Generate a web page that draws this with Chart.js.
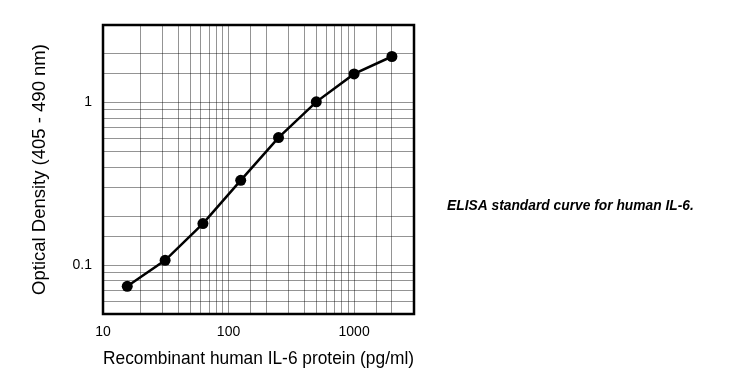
<!DOCTYPE html>
<html lang="en">
<head>
    <meta charset="UTF-8">
    <title>ELISA standard curve for human IL-6</title>
    <style>
        body {
            margin: 0;
            padding: 0;
            background-color: #fff;
        }

        .chart-container {
            width: 745px;
            height: 392px;
        }
    </style>
    <script src="https://cdn.jsdelivr.net/npm/chart.js"></script>
</head>
<body>
    <div class="chart-container">
        <canvas id="elisaChart" width="745" height="392"></canvas>
    </div>

    <script>
        // standard concentrations (pg/ml) and optical density
        const concentrations = [15.6, 31.25, 62.5, 125, 250, 500, 1000, 2000];
        const opticalDensity = [0.074, 0.107, 0.180, 0.332, 0.609, 1.01, 1.50, 1.92];

        const xTickLabels = [10, 100, 1000];
        const yTickLabels = [0.1, 1];

        const xTitle = 'Recombinant human IL-6 protein (pg/ml)';
        const yTitle = 'Optical Density (405 - 490 nm)';
        const caption = 'ELISA standard curve for human IL-6.';

        const FONT = '"Liberation Sans", Arial, sans-serif';
        const GRID_COLOR = 'rgba(0, 0, 0, 0.42)';

        function showLabel(value, list) {
            return list.some(v => Math.abs(v - value) / v < 1e-6);
        }

        // black frame around the plot area
        const frame = {
            id: 'frame',
            afterDatasetsDraw(chart) {
                const { ctx, chartArea } = chart;
                ctx.save();
                ctx.strokeStyle = '#000';
                ctx.lineWidth = 2.5;
                ctx.strokeRect(chartArea.left, chartArea.top,
                    chartArea.right - chartArea.left, chartArea.bottom - chartArea.top);
                ctx.restore();
            }
        };

        // caption to the right of the chart
        const captionText = {
            id: 'captionText',
            afterDraw(chart) {
                const ctx = chart.ctx;
                ctx.save();
                ctx.fillStyle = '#000';
                ctx.font = 'italic bold 13.8px ' + FONT;
                ctx.textBaseline = 'middle';
                ctx.fillText(caption, 447, 206);
                ctx.restore();
            }
        };

        const points = concentrations.map((c, i) => ({ x: c, y: opticalDensity[i] }));

        const ctx = document.getElementById('elisaChart').getContext('2d');
        const elisaChart = new Chart(ctx, {
            type: 'line',
            data: {
                datasets: [{
                    data: points,
                    borderColor: '#000',
                    backgroundColor: '#000',
                    borderWidth: 2.5,
                    pointRadius: 5.5,
                    pointBorderWidth: 0,
                    tension: 0,
                    fill: false
                }]
            },
            options: {
                responsive: false,
                animation: false,
                layout: {
                    padding: { left: 0, top: 25, right: 331, bottom: 0 }
                },
                plugins: {
                    legend: { display: false },
                    tooltip: { enabled: false }
                },
                scales: {
                    x: {
                        type: 'logarithmic',
                        min: 10,
                        max: 3000,
                        grid: { color: GRID_COLOR, lineWidth: 1, drawTicks: false },
                        border: { display: false },
                        ticks: {
                            autoSkip: false,
                            maxRotation: 0,
                            padding: 10,
                            color: '#000',
                            font: { family: FONT, size: 14 },
                            callback: (value) => showLabel(value, xTickLabels) ? String(value) : ''
                        },
                        title: {
                            display: true,
                            text: xTitle,
                            color: '#000',
                            font: { family: FONT, size: 18.5 },
                            padding: { top: 0, bottom: 22 }
                        },
                        afterFit: (scale) => { scale.height = 78; }
                    },
                    y: {
                        type: 'logarithmic',
                        min: 0.05,
                        max: 3,
                        grid: { color: GRID_COLOR, lineWidth: 1, drawTicks: false },
                        border: { display: false },
                        ticks: {
                            autoSkip: false,
                            padding: 11,
                            color: '#000',
                            font: { family: FONT, size: 14 },
                            callback: (value) => showLabel(value, yTickLabels) ? String(value) : ''
                        },
                        title: {
                            display: true,
                            text: yTitle,
                            color: '#000',
                            font: { family: FONT, size: 18.5 },
                            padding: { top: 29, bottom: 0 }
                        },
                        afterFit: (scale) => { scale.width = 103; }
                    }
                }
            },
            plugins: [frame, captionText]
        });
    </script>
</body>
</html>
